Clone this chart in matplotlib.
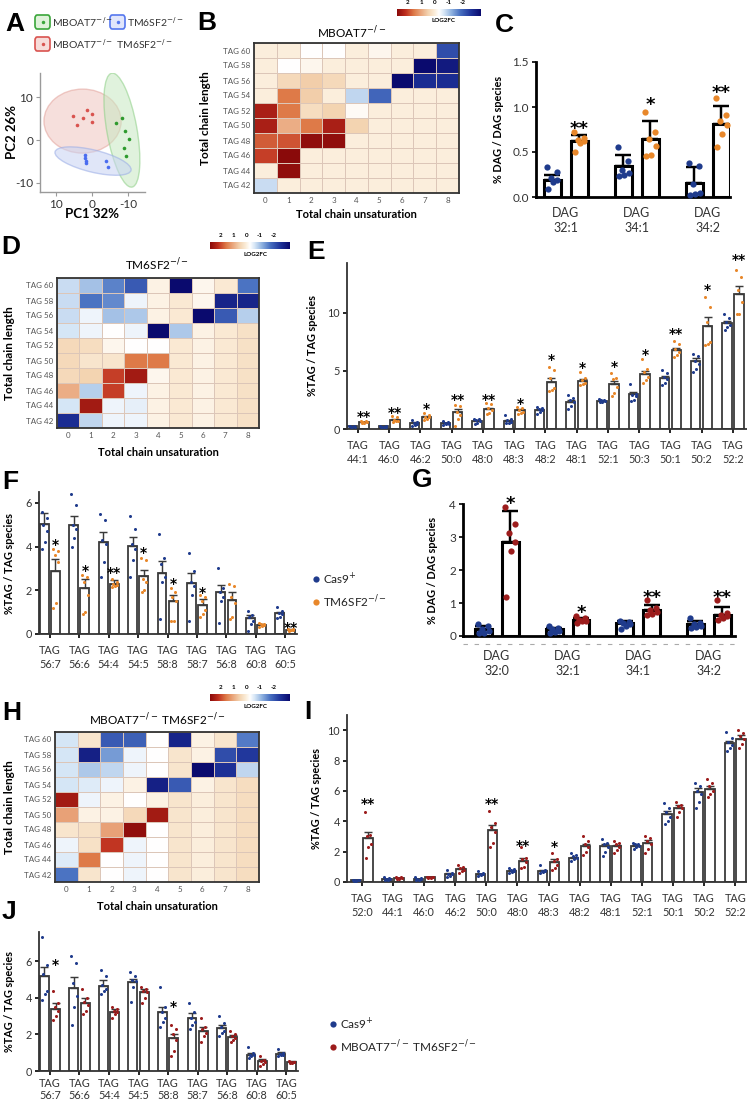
import numpy as np
import matplotlib
matplotlib.use("Agg")
import matplotlib.pyplot as plt
from matplotlib.colors import LinearSegmentedColormap
from matplotlib.patches import Ellipse, FancyBboxPatch
from matplotlib.lines import Line2D

W, H = 747, 1106
plt.rcParams['font.family'] = ['Lato', 'DejaVu Sans']
plt.rcParams['axes.unicode_minus'] = False

NAVY = "#1f3b8c"
ORANGE = "#e8872a"
DRED = "#9c1c1c"
KO1 = "MBOAT7$^{-/-}$"
KO2 = "TM6SF2$^{-/-}$"

# ---------------- data ----------------
# A: PCA scores
pca_red_x = [5.3, 4.2, 2.5, 1.4, 0.0, 0.0]
pca_red_y = [5.6, 3.5, 5.1, 7.0, 6.0, 4.2]
pca_green_x = [-6.7, -8.3, -9.2, -10.3, -8.9, -9.4]
pca_green_y = [4.0, 5.1, 2.1, 0.2, -1.9, -3.7]
pca_blue_x = [1.9, 1.9, 1.7, 1.7, -3.9, -4.4]
pca_blue_y = [-3.5, -4.2, -4.9, -5.3, -4.9, -6.3]
# ellipses: center x, center y, width, height, angle
ell_red = (2.6, 4.4, 21.4, 14.9, 0)
ell_green = (-8.3, 2.3, 27.1, 8.3, 77.7)
ell_blue = (-0.3, -4.9, 21.5, 5.2, 11.3)

# heatmaps (rows TAG 60 -> TAG 42, cols unsaturation 0..8), log2FC
chain_len = [60, 58, 56, 54, 52, 50, 48, 46, 44, 42]
unsat = [0, 1, 2, 3, 4, 5, 6, 7, 8]
hm_mboat7 = [
    [0.2, 0.2, 0.0, 0.0, 0.2, 0.1, 0.2, 0.2, -1.3],
    [0.2, 0.0, 0.1, 0.2, 0.2, 0.2, 0.2, -2.0, -1.8],
    [0.2, 0.45, 0.55, 0.45, 0.2, 0.2, -2.0, -1.6, -1.6],
    [0.2, 1.2, 0.55, 0.2, -0.35, -1.1, 0.2, 0.2, 0.2],
    [1.75, 1.2, 0.4, 0.5, 0.05, 0.2, 0.2, 0.2, 0.2],
    [1.75, 0.8, 1.2, 1.75, 0.5, 0.2, 0.2, 0.2, 0.2],
    [1.35, 1.4, 1.95, 1.95, 0.2, 0.2, 0.2, 0.2, 0.2],
    [1.5, 2.0, 0.2, 0.2, 0.2, 0.2, 0.2, 0.2, 0.2],
    [0.2, 1.95, 0.2, 0.2, 0.2, 0.2, 0.2, 0.2, 0.2],
    [-0.3, 0.2, 0.2, 0.2, 0.2, 0.2, 0.2, 0.2, 0.2],
]
hm_tm6 = [
    [-0.3, -0.5, -0.9, -1.2, 0.15, -2.0, 0.1, 0.25, -1.0],
    [-0.3, -1.0, -0.85, -0.1, 0.15, 0.25, 0.1, -1.7, -1.7],
    [-0.3, -0.1, -0.5, -0.45, 0.15, 0.25, -2.0, -1.2, -0.4],
    [-0.25, -0.1, 0.0, -0.1, -2.0, -0.45, 0.15, 0.25, 0.35],
    [0.45, 0.4, 0.1, 0.0, 0.0, 0.25, 0.15, 0.25, 0.35],
    [0.45, 0.3, 0.3, 1.2, 1.2, 0.25, 0.15, 0.25, 0.35],
    [0.45, 0.5, 1.5, 1.8, 0.1, 0.25, 0.15, 0.25, 0.35],
    [0.8, -0.4, 1.5, -0.1, 0.15, 0.25, 0.15, 0.25, 0.35],
    [-0.25, 1.8, -0.1, -0.15, 0.15, 0.25, 0.15, 0.25, 0.35],
    [-1.6, -0.35, -0.1, -0.1, 0.15, 0.25, 0.15, 0.25, 0.35],
]
hm_dko = [
    [-0.25, 0.3, -1.2, -1.15, 0.0, -1.7, 0.15, 0.3, -0.95],
    [-0.25, -1.75, -0.75, -0.1, 0.0, 0.3, 0.15, -1.3, -1.5],
    [-0.25, -0.45, -0.35, -0.1, 0.0, 0.3, -2.0, -1.55, -0.35],
    [-0.25, -0.2, -0.1, 0.15, -1.75, -1.2, 0.15, 0.3, 0.4],
    [1.8, -0.1, 0.15, 0.0, 0.15, 0.3, 0.2, 0.3, 0.4],
    [0.9, 0.15, 0.15, 0.45, 1.8, 0.3, 0.2, 0.3, 0.4],
    [0.3, 0.35, 0.9, 1.95, 0.0, 0.3, 0.2, 0.3, 0.4],
    [-0.1, 0.35, 1.55, -0.1, 0.0, 0.3, 0.2, 0.3, 0.4],
    [-0.2, 1.2, 0.0, -0.1, 0.0, 0.3, 0.2, 0.3, 0.4],
    [-1.0, 0.3, 0.0, -0.1, 0.0, 0.3, 0.2, 0.3, 0.4],
]

# C: DAG, Cas9 vs TM6SF2-/-
c_cats = ["32:1", "34:1", "34:2"]
c_cas = [0.19, 0.35, 0.16]
c_tm6 = [0.62, 0.65, 0.81]
c_cas_err = [0.06, 0.12, 0.17]
c_tm6_err = [0.07, 0.19, 0.2]
c_cas_pts = [[0.33, 0.28, 0.21, 0.19, 0.17, 0.09],
             [0.56, 0.40, 0.30, 0.27, 0.25, 0.23],
             [0.38, 0.35, 0.15, 0.05, 0.03, 0.02]]
c_tm6_pts = [[0.72, 0.66, 0.63, 0.62, 0.60, 0.50],
             [0.94, 0.72, 0.64, 0.57, 0.47, 0.46],
             [1.10, 0.91, 0.85, 0.80, 0.70, 0.56]]
c_stars = ["**", "*", "**"]
c_star_y = [0.82, 1.08, 1.22]

# E: TAG increased, Cas9 vs TM6SF2-/-
e_cats = ["44:1", "46:0", "46:2", "50:0", "48:0", "48:3", "48:2", "48:1",
          "52:1", "50:3", "50:1", "50:2", "52:2"]
e_cas = [0.25, 0.25, 0.5, 0.5, 0.7, 0.7, 1.6, 2.3, 2.4, 3.0, 4.4, 5.9, 9.1]
e_tm6 = [0.6, 0.8, 1.05, 1.45, 1.7, 1.6, 4.05, 4.15, 3.85, 4.7, 6.8, 8.85, 11.6]
e_cas_err = [0.03, 0.03, 0.08, 0.05, 0.06, 0.08, 0.08, 0.18, 0.05, 0.2, 0.2, 0.25, 0.2]
e_tm6_err = [0.03, 0.08, 0.08, 0.25, 0.15, 0.1, 0.35, 0.15, 0.3, 0.3, 0.2, 0.8, 0.7]
e_cas_pts = [[0.3, 0.25, 0.2, 0.2, 0.15, 0.25], [0.3, 0.25, 0.2, 0.2, 0.15, 0.2],
             [0.8, 0.6, 0.5, 0.45, 0.35, 0.3], [0.65, 0.6, 0.5, 0.45, 0.4, 0.35],
             [0.9, 0.85, 0.75, 0.7, 0.55, 0.45], [1.2, 0.85, 0.75, 0.6, 0.55, 0.5],
             [1.9, 1.8, 1.7, 1.6, 1.5, 1.3], [2.9, 2.7, 2.5, 2.3, 2.0, 1.7],
             [2.6, 2.5, 2.5, 2.4, 2.3, 2.3], [3.9, 3.0, 2.9, 2.8, 2.5, 2.4],
             [5.1, 4.8, 4.5, 4.3, 4.0, 3.8], [6.5, 6.3, 5.9, 5.6, 5.2, 4.9],
             [9.9, 9.6, 9.2, 9.0, 8.8, 8.5]]
e_tm6_pts = [[0.7, 0.65, 0.6, 0.6, 0.55, 0.5], [1.1, 1.0, 0.8, 0.7, 0.65, 0.6],
             [1.4, 1.2, 1.05, 1.0, 0.9, 0.8], [2.1, 2.0, 1.5, 1.2, 0.9, 0.3],
             [2.2, 2.15, 1.8, 1.6, 1.4, 1.3], [1.9, 1.8, 1.6, 1.5, 1.4, 1.3],
             [5.3, 5.1, 4.4, 3.5, 3.4, 3.3], [4.9, 4.4, 4.2, 4.0, 3.9, 3.8],
             [4.8, 4.4, 4.3, 3.6, 3.1, 2.8], [6.0, 5.2, 4.9, 4.5, 4.2, 4.0],
             [7.6, 7.3, 6.9, 6.6, 6.4, 6.2], [11.4, 10.5, 9.2, 7.5, 7.3, 7.2],
             [13.7, 13.1, 12.0, 10.9, 9.9, 9.9]]
e_stars = ["**", "**", "*", "**", "**", "*", "*", "*", "*", "*", "**", "*", "**"]
e_star_y = [1.35, 1.7, 2.06, 2.9, 2.9, 2.55, 6.3, 5.6, 5.7, 6.7, 8.5, 12.3, 14.9]

# F: TAG decreased, Cas9 vs TM6SF2-/-
f_cats = ["56:7", "56:6", "54:4", "54:5", "58:8", "58:7", "56:8", "60:8", "60:5"]
f_cas = [5.05, 5.0, 4.2, 4.05, 2.8, 2.35, 1.9, 0.75, 0.95]
f_tm6 = [2.9, 2.1, 2.3, 2.65, 1.5, 1.35, 1.55, 0.4, 0.2]
f_cas_err = [0.5, 0.4, 0.45, 0.4, 0.55, 0.45, 0.35, 0.1, 0.07]
f_tm6_err = [0.55, 0.4, 0.15, 0.3, 0.3, 0.25, 0.35, 0.06, 0.03]
f_cas_pts = [[5.6, 5.3, 5.0, 4.7, 4.2, 3.9], [6.4, 5.9, 5.0, 4.8, 4.4, 4.0],
             [5.5, 5.2, 4.3, 4.1, 3.3, 2.6], [5.4, 4.8, 4.1, 3.9, 3.4, 2.6],
             [4.6, 3.5, 3.2, 2.6, 2.4, 0.7], [3.7, 2.9, 2.4, 2.2, 1.8, 0.6],
             [3.0, 2.1, 1.9, 1.7, 1.5, 0.5], [1.05, 0.85, 0.8, 0.6, 0.45, 0.15],
             [1.25, 1.05, 0.95, 0.9, 0.8, 0.75]]
f_tm6_pts = [[3.9, 3.8, 3.6, 3.3, 1.4, 1.2], [2.7, 2.6, 2.4, 1.8, 1.0, 0.9],
             [2.5, 2.4, 2.3, 2.25, 2.2, 2.15], [3.5, 3.4, 2.5, 2.4, 2.0, 1.9],
             [2.1, 1.9, 1.7, 1.5, 0.6, 0.6], [1.8, 1.7, 1.5, 1.1, 0.9, 0.8],
             [2.3, 2.2, 1.7, 1.4, 0.8, 0.7], [0.5, 0.45, 0.45, 0.4, 0.35, 0.3],
             [0.25, 0.22, 0.2, 0.2, 0.18, 0.15]]
f_stars = ["*", "*", "**", "*", "*", "*", "", "", "**"]
f_star_y = [4.28, 3.08, 2.99, 3.92, 2.5, 2.09, 0, 0, 0.48]

# G: DAG, Cas9 vs double KO
g_cats = ["32:0", "32:1", "34:1", "34:2"]
g_cas = [0.2, 0.2, 0.38, 0.35]
g_dko = [2.85, 0.48, 0.78, 0.63]
g_cas_err = [0.1, 0.05, 0.07, 0.1]
g_dko_err = [0.93, 0.06, 0.15, 0.25]
g_cas_pts = [[0.37, 0.3, 0.2, 0.15, 0.1, 0.08], [0.3, 0.25, 0.2, 0.15, 0.12, 0.1],
             [0.45, 0.42, 0.4, 0.35, 0.3, 0.2], [0.55, 0.4, 0.35, 0.3, 0.28, 0.25]]
g_dko_pts = [[3.9, 3.38, 3.12, 2.85, 2.58, 1.18], [0.6, 0.55, 0.5, 0.45, 0.45, 0.4],
             [1.08, 0.85, 0.78, 0.72, 0.68, 0.65], [1.08, 0.7, 0.65, 0.6, 0.55, 0.5]]
g_stars = ["*", "*", "**", "**"]
g_star_y = [4.15, 0.85, 1.33, 1.33]

# I: TAG increased, Cas9 vs double KO
i_cats = ["52:0", "44:1", "46:0", "46:2", "50:0", "48:0", "48:3", "48:2", "48:1",
          "52:1", "50:1", "50:2", "52:2"]
i_cas = [0.1, 0.2, 0.2, 0.5, 0.5, 0.75, 0.7, 1.6, 2.35, 2.4, 4.45, 5.95, 9.15]
i_dko = [2.9, 0.25, 0.3, 0.85, 3.4, 1.4, 1.3, 2.35, 2.35, 2.6, 4.9, 6.15, 9.45]
i_cas_err = [0.02, 0.02, 0.02, 0.07, 0.04, 0.05, 0.08, 0.07, 0.17, 0.06, 0.2, 0.25, 0.15]
i_dko_err = [0.4, 0.02, 0.02, 0.08, 0.35, 0.2, 0.2, 0.18, 0.12, 0.15, 0.15, 0.18, 0.2]
i_cas_pts = [[0.15, 0.12, 0.1, 0.1, 0.08, 0.05], [0.3, 0.25, 0.2, 0.2, 0.15, 0.15],
             [0.3, 0.25, 0.2, 0.2, 0.15, 0.15], [0.8, 0.6, 0.55, 0.5, 0.4, 0.3],
             [0.7, 0.6, 0.55, 0.5, 0.45, 0.4], [0.95, 0.85, 0.8, 0.75, 0.65, 0.6],
             [1.15, 0.8, 0.75, 0.7, 0.65, 0.6], [1.9, 1.8, 1.7, 1.6, 1.5, 1.4],
             [2.8, 2.6, 2.5, 2.3, 2.0, 1.7], [2.6, 2.5, 2.5, 2.4, 2.3, 2.2],
             [5.2, 4.9, 4.6, 4.3, 4.0, 3.8], [6.5, 6.3, 6.0, 5.8, 5.3, 4.9],
             [9.9, 9.5, 9.2, 9.0, 8.8, 8.6]]
i_dko_pts = [[4.6, 3.1, 3.0, 2.5, 2.3, 1.6], [0.3, 0.3, 0.25, 0.25, 0.2, 0.2],
             [0.35, 0.3, 0.3, 0.3, 0.25, 0.25], [1.1, 1.0, 0.9, 0.8, 0.7, 0.6],
             [4.7, 3.9, 3.6, 3.3, 2.6, 2.3], [2.3, 1.6, 1.5, 1.3, 1.0, 0.9],
             [1.9, 1.5, 1.4, 1.1, 0.9, 0.8], [3.0, 2.7, 2.5, 2.3, 2.0, 1.8],
             [2.7, 2.6, 2.5, 2.3, 2.1, 1.9], [3.0, 2.9, 2.7, 2.5, 2.2, 1.9],
             [5.3, 5.1, 5.0, 4.9, 4.6, 4.3], [6.8, 6.5, 6.3, 6.0, 5.8, 5.6],
             [10.0, 9.8, 9.6, 9.4, 9.1, 8.8]]
i_stars = ["**", "", "", "", "**", "**", "*", "", "", "", "", "", ""]
i_star_y = [5.38, 0, 0, 0, 5.38, 2.67, 2.56, 0, 0, 0, 0, 0, 0]

# J: TAG decreased, Cas9 vs double KO
j_cats = f_cats
j_cas = [5.2, 4.55, 4.65, 4.85, 3.2, 2.9, 2.35, 0.9, 0.95]
j_dko = [3.4, 3.7, 3.25, 4.3, 1.8, 2.2, 1.85, 0.55, 0.5]
j_cas_err = [0.5, 0.6, 0.3, 0.2, 0.3, 0.25, 0.15, 0.1, 0.1]
j_dko_err = [0.3, 0.3, 0.15, 0.2, 0.25, 0.2, 0.1, 0.1, 0.05]
j_cas_pts = [[7.3, 5.8, 5.3, 4.4, 4.2, 3.9], [6.3, 5.9, 4.8, 4.1, 3.5, 2.5],
             [5.5, 5.2, 4.7, 4.5, 4.4, 4.2], [5.4, 5.2, 5.0, 4.9, 4.6, 3.8],
             [4.6, 3.5, 3.2, 2.9, 2.7, 2.4], [3.7, 3.2, 2.9, 2.7, 2.5, 2.3],
             [3.0, 2.6, 2.4, 2.2, 2.1, 1.9], [1.3, 1.0, 0.9, 0.85, 0.8, 0.7],
             [1.2, 1.0, 0.95, 0.9, 0.85, 0.8]]
j_dko_pts = [[4.4, 3.7, 3.5, 3.3, 3.0, 2.8], [4.5, 4.0, 3.8, 3.6, 3.3, 3.1],
             [3.5, 3.4, 3.3, 3.2, 3.1, 2.9], [4.6, 4.5, 4.4, 4.3, 4.0, 3.7],
             [2.5, 2.3, 2.0, 1.7, 1.1, 0.8], [2.9, 2.4, 2.3, 2.1, 1.9, 1.6],
             [2.2, 2.0, 1.9, 1.8, 1.7, 1.6], [0.8, 0.6, 0.55, 0.5, 0.4, 0.3],
             [0.55, 0.5, 0.5, 0.5, 0.45, 0.45]]
j_stars = ["*", "", "", "", "*", "", "", "", ""]
j_star_y = [6.04, 0, 0, 0, 3.7, 0, 0, 0, 0]

# ---------------- helpers ----------------
fig = plt.figure(figsize=(W / 100, H / 100), dpi=100)


def box(x0, y0, x1, y1):
    return fig.add_axes([x0 / W, 1 - y1 / H, (x1 - x0) / W, (y1 - y0) / H])


def ftext(x, y, s, **kw):
    fig.text(x / W, 1 - y / H, s, **kw)


def letter(x, y, s):
    ftext(x, y, s, fontsize=19, weight='bold', family='Liberation Sans', va='top', ha='left')


def ax_span(ax):
    p = ax.get_position()
    return p.x0 * W, (1 - p.y1) * H, p.x1 * W, (1 - p.y0) * H


cmap = LinearSegmentedColormap.from_list("lfc", [
    (0.0, "#0a0a6e"), (0.12, "#1f349a"), (0.25, "#4a72c2"), (0.35, "#8fb2e0"),
    (0.44, "#d6e6f6"), (0.5, "#ffffff"), (0.55, "#fbeedb"), (0.63, "#f3d3b0"),
    (0.72, "#e9a47a"), (0.8, "#de7a48"), (0.9, "#be2e1e"), (1.0, "#8a0a0a")])


def heatmap(ax, Z, title, tx, ty, ylx, xly, cb):
    Zb = np.array(Z)[::-1]
    ax.pcolormesh(Zb, cmap=cmap, vmin=-2, vmax=2, edgecolors='#dcc6b8', linewidth=0.6)
    ax.set_xticks(np.arange(9) + 0.5, [str(u) for u in unsat])
    ax.set_yticks(np.arange(10) + 0.5, ["TAG %d" % c for c in chain_len[::-1]])
    ax.tick_params(length=0, labelsize=5.8, labelcolor='#555555', pad=3)
    for s in ax.spines.values():
        s.set_linewidth(1.3)
        s.set_color('#333333')
    ftext(tx, ty, title, fontsize=8.5, ha='center', va='center')
    x0, y0, x1, y1 = ax_span(ax)
    ftext(ylx, 0.5 * (y0 + y1), "Total chain length", fontsize=8.5, weight='bold',
          rotation=90, ha='center', va='center')
    ftext(0.5 * (x0 + x1), xly, "Total chain unsaturation", fontsize=8, weight='bold',
          ha='center', va='center')
    # colour key
    cx0, cy0, cx1, cy1 = cb
    cax = box(cx0, cy0, cx1, cy1)
    cax.imshow(np.linspace(2, -2, 256)[None, :], cmap=cmap, vmin=-2, vmax=2,
               aspect='auto')
    cax.set_axis_off()
    for k, v in enumerate(["2", "1", "0", "-1", "-2"]):
        ftext(cx0 + (cx1 - cx0) * (0.13 + 0.165 * k), cy0 - 4, v, fontsize=4.5,
              weight='bold', ha='center', va='bottom')
    ftext(0.5 * (cx0 + cx1) + 5, cy1 + 5, "LOG2FC", fontsize=4.5, weight='bold',
          ha='center', va='center')


JIT = np.array([-0.3, 0.25, -0.1, 0.3, 0.05, -0.25])


def bar_panel(ax, cats, prefix, m1, m2, e1, e2, d1, d2, stars, star_y, c2,
              heavy, ylim, xlim, yticks, xpad, lsp=1.35):
    n = len(cats)
    x = np.arange(n)
    ec = 'black' if heavy else '#3a3a3a'
    lw = 2.2 if heavy else 1.3
    off = 0.19
    wd = 0.24 if heavy else 0.3
    ms = 4.5 if heavy else 2.2
    for sign, m, e, d, col in [(-1, m1, e1, d1, NAVY), (1, m2, e2, d2, c2)]:
        xs = x + sign * off
        ax.bar(xs, m, wd, color='white', edgecolor=ec, linewidth=lw, zorder=2)
        ax.errorbar(xs, m, yerr=[np.zeros(n), e], fmt='none', ecolor=ec,
                    elinewidth=lw * 0.8, capsize=6 if heavy else 3,
                    capthick=lw * 0.8, zorder=3)
        for i in range(n):
            ax.plot(xs[i] + JIT * wd, d[i], 'o', ms=ms, color=col, mew=0,
                    zorder=4, clip_on=False)
    sfs = 13 if heavy else 10
    for i in range(n):
        if stars[i]:
            # asterisk glyph sits high in its box: shift so its centre lands on star_y
            ax.annotate(stars[i], (x[i] + off, star_y[i]), xytext=(0, -0.3 * sfs),
                        textcoords='offset points', ha='center', va='center',
                        fontsize=sfs, weight='bold', annotation_clip=False,
                        family='DejaVu Sans')
    ax.set_xlim(xlim)
    ax.set_ylim(ylim)
    ax.set_yticks(yticks)
    ax.set_xticks(x, ["%s\n%s" % (prefix, c) for c in cats])
    ax.spines[['top', 'right']].set_visible(False)
    for s in ['left', 'bottom']:
        ax.spines[s].set_linewidth(2.0 if heavy else 1.3)
        ax.spines[s].set_color('black' if heavy else '#333333')
    ax.tick_params(axis='x', length=0 if heavy else 3, width=1.2,
                   labelsize=9 if heavy else 7.8, labelcolor='#333333', pad=xpad)
    for t in ax.get_xticklabels():
        t.set_linespacing(lsp)
    ax.tick_params(axis='y', length=3, width=1.2, labelsize=8.5 if heavy else 7.8,
                   labelcolor='#333333', pad=2)


def ylab(x, ax, s):
    x0, y0, x1, y1 = ax_span(ax)
    ftext(x, 0.5 * (y0 + y1), s, fontsize=7.8, weight='bold', rotation=90,
          ha='center', va='center')


def dot_legend(x, y, items):
    for k, (col, lab) in enumerate(items):
        yy = y + 23 * k
        fig.add_artist(Line2D([x / W], [1 - yy / H], marker='o', ms=4.5, color=col,
                              mew=0, transform=fig.transFigure))
        ftext(x + 7, yy, lab, fontsize=8.5, va='center', ha='left', color='#222222')


# ---------------- A: PCA ----------------
letter(5, 12, "A")
leg_items = [(35, 15, "#3aa63a", "#dff2da", KO1), (110, 15, "#5577ee", "#e1e6fb", KO2),
             (35, 37, "#d9534f", "#f7dcd9", KO1 + " " + KO2)]
for lx, ly, col, fc, lab in leg_items:
    fig.add_artist(FancyBboxPatch((lx / W, 1 - (ly + 14) / H), 15 / W, 14 / H,
                                  boxstyle="round,pad=0,rounding_size=0.003",
                                  transform=fig.transFigure, facecolor=fc,
                                  edgecolor=col, linewidth=1.2))
    fig.add_artist(Line2D([(lx + 7.5) / W], [1 - (ly + 7) / H], marker='o', ms=2.5,
                          color=col, mew=0, transform=fig.transFigure))
    ftext(lx + 17, ly + 7, lab, fontsize=7.5, va='center', ha='left', color='#333333')

axA = box(40, 73, 145, 192)
for (cx, cy, w, h, ang), fc, ec in [(ell_red, "#f0c6c0", "#e3a39c"),
                                    (ell_green, "#c8e8c2", "#8ccf85"),
                                    (ell_blue, "#c8d3f3", "#98abe6")]:
    axA.add_patch(Ellipse((cx, cy), w, h, angle=ang, facecolor=fc, edgecolor=ec,
                          alpha=0.55, linewidth=1.0))
axA.plot(pca_red_x, pca_red_y, 'o', ms=2.6, color="#d9534f", mew=0)
axA.plot(pca_green_x, pca_green_y, 'o', ms=2.6, color="#2e9a2e", mew=0)
axA.plot(pca_blue_x, pca_blue_y, 'o', ms=2.6, color="#4a6cf0", mew=0)
axA.set_xlim(14.4, -14.7)
axA.set_ylim(-12.1, 15.6)
axA.set_xticks([10, 0, -10])
axA.set_yticks([-10, 0, 10])
axA.spines[['top', 'right']].set_visible(False)
for s in ['left', 'bottom']:
    axA.spines[s].set_color('#9a9a9a')
    axA.spines[s].set_linewidth(1.0)
axA.tick_params(length=3, color='#9a9a9a', labelsize=8.5, labelcolor='#333333', pad=2)
ftext(92, 214, "PC1 32%", fontsize=9.5, weight='bold', ha='center', va='center')
ftext(12, 132, "PC2 26%", fontsize=9.5, weight='bold', ha='center', va='center',
      rotation=90)

# ---------------- B, D, H: heatmaps ----------------
letter(197, 11, "B")
axB = box(254, 43, 459, 193)
heatmap(axB, hm_mboat7, KO1, 352, 33, 205, 214, (397, 9, 480, 16))

letter(1, 235, "D")
axD = box(57, 278, 259, 428)
heatmap(axD, hm_tm6, KO2, 157, 265, 10, 453, (210, 242, 290, 249))

letter(2, 701, "H")
axH = box(55, 732, 259, 882)
heatmap(axH, hm_dko, KO1 + " " + KO2, 157, 720, 10, 906, (210, 694, 290, 701))

# ---------------- C ----------------
letter(495, 13, "C")
axC = box(536, 62, 730, 197)
bar_panel(axC, c_cats, "DAG", c_cas, c_tm6, c_cas_err, c_tm6_err, c_cas_pts, c_tm6_pts,
          c_stars, c_star_y, ORANGE, True, (0, 1.5), (-0.42, 2.31), [0, 0.5, 1.0, 1.5], 7)
axC.set_yticklabels(["0.0", "0.5", "1.0", "1.5"])
ylab(499, axC, "% DAG / DAG species")

# ---------------- E ----------------
letter(307, 240, "E")
axE = box(347, 263, 747, 429)
bar_panel(axE, e_cats, "TAG", e_cas, e_tm6, e_cas_err, e_tm6_err, e_cas_pts, e_tm6_pts,
          e_stars, e_star_y, ORANGE, False, (0, 14.3), (-0.35, 12.45), [0, 5, 10], 5)
ylab(313, axE, "%TAG / TAG species")

# ---------------- F ----------------
letter(2, 470, "F")
axF = box(39, 492, 297, 634)
bar_panel(axF, f_cats, "TAG", f_cas, f_tm6, f_cas_err, f_tm6_err, f_cas_pts, f_tm6_pts,
          f_stars, f_star_y, ORANGE, False, (0, 6.5), (-0.37, 8.4), [0, 2, 4, 6], 5)
ylab(10, axF, "%TAG / TAG species")
dot_legend(316, 579, [(NAVY, "Cas9$^{+}$"), (ORANGE, KO2)])

# ---------------- G ----------------
letter(412, 468, "G")
axG = box(463, 504, 735, 636)
bar_panel(axG, g_cats, "DAG", g_cas, g_dko, g_cas_err, g_dko_err, g_cas_pts, g_dko_pts,
          g_stars, g_star_y, DRED, True, (0, 4), (-0.48, 3.37), [0, 1, 2, 3, 4], 10)
axG.plot([0, 1], [-0.06, -0.06], transform=axG.transAxes, ls=(0, (4, 6)),
         color='#aaaaaa', lw=0.8, clip_on=False)
ylab(432, axG, "% DAG / DAG species")

# ---------------- I ----------------
letter(304, 700, "I")
axI = box(347, 715, 747, 882)
bar_panel(axI, i_cats, "TAG", i_cas, i_dko, i_cas_err, i_dko_err, i_cas_pts, i_dko_pts,
          i_stars, i_star_y, DRED, False, (0, 11), (-0.48, 12.38), [0, 2, 4, 6, 8, 10], 5)
ylab(316, axI, "%TAG / TAG species")

# ---------------- J ----------------
letter(2, 900, "J")
axJ = box(39, 932, 298, 1071)
bar_panel(axJ, j_cats, "TAG", j_cas, j_dko, j_cas_err, j_dko_err, j_cas_pts, j_dko_pts,
          j_stars, j_star_y, DRED, False, (0, 7.6), (-0.37, 8.4), [0, 2, 4, 6], 2,
          lsp=1.15)
ylab(10, axJ, "%TAG / TAG species")
dot_legend(333, 1024, [(NAVY, "Cas9$^{+}$"), (DRED, KO1 + " " + KO2)])

fig.savefig("out.png", dpi=100)
